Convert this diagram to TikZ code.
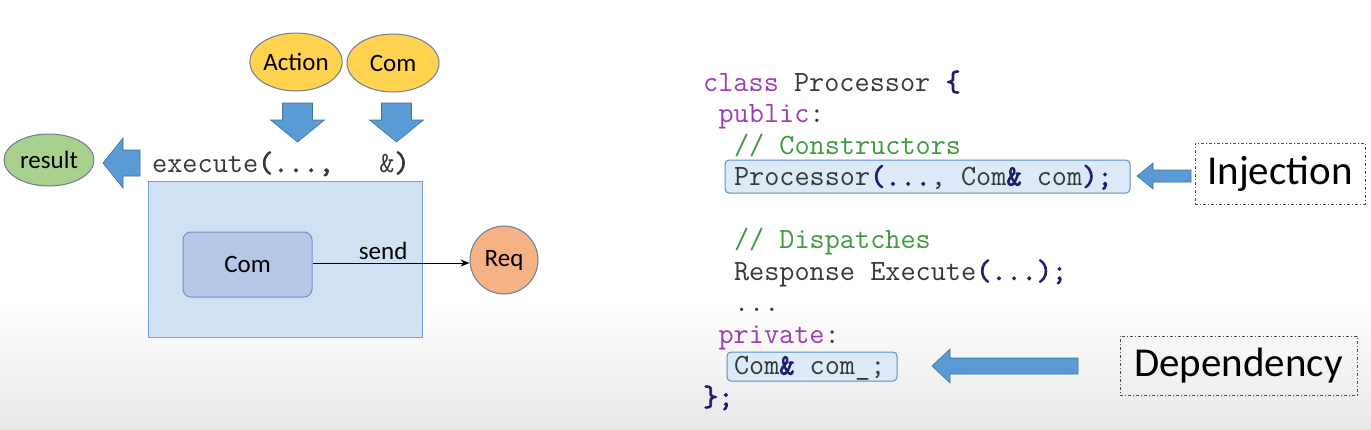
\documentclass[tikz,border=0pt]{standalone}
\usepackage{fontspec}
\setmainfont{Carlito}
\setmonofont[BoldFont={Latin Modern Mono},BoldFeatures={FakeBold=2.5}]{Latin Modern Mono}
\usetikzlibrary{arrows.meta,shapes.geometric}
\definecolor{kw}{RGB}{155,60,185}
\definecolor{cm}{RGB}{60,155,60}
\definecolor{tx}{RGB}{55,55,55}
\definecolor{pn}{RGB}{30,30,110}
\definecolor{arrfill}{RGB}{91,155,213}
\definecolor{arrline}{RGB}{65,113,156}
\definecolor{yel}{RGB}{255,210,80}
\definecolor{grn}{RGB}{169,209,142}
\definecolor{org}{RGB}{244,177,131}
\definecolor{shapeline}{RGB}{110,125,150}
\definecolor{boxfill}{RGB}{207,225,243}
\definecolor{boxline}{RGB}{120,160,205}
\definecolor{comfill}{RGB}{180,199,231}
\definecolor{comline}{RGB}{115,145,195}
\definecolor{hlfill}{RGB}{220,233,246}
\definecolor{hlline}{RGB}{91,143,199}
\newcommand\pb[1]{\textbf{\textcolor{pn}{#1}}}
\tikzset{
  lbl/.style={font=\fontsize{25}{28}\selectfont, text=black},
  oval/.style={ellipse, draw=shapeline, line width=1pt, inner sep=0pt},
  blockarrow/.style={fill=arrfill, draw=arrline, line width=0.6pt},
  codeline/.style={anchor=base west, inner sep=0pt, text=tx, font=\ttfamily\fontsize{29.4}{32}\selectfont},
  hlbox/.style={draw=hlline, fill=hlfill, rounded corners=4pt, line width=1pt, inner sep=0pt},
  tagbox/.style={draw=black!70, line width=0.8pt, dash pattern=on 3pt off 2pt on 1pt off 2pt, inner sep=0pt, font=\fontsize{41}{44}\selectfont},
}
\begin{document}
\begin{tikzpicture}[x=1pt,y=-1pt]
\useasboundingbox (0,0) rectangle (1371,429);
\fill[white] (0,0) rectangle (1371,300);
\shade[top color=white, bottom color=black!9] (0,300) rectangle (1371,429);

% ---------- left diagram ----------
\node[oval, fill=yel, minimum width=90, minimum height=58, lbl] (action) at (296,62) {Action};
\node[oval, fill=yel, minimum width=92, minimum height=58, lbl] (comin) at (393,63) {Com};
\node[oval, fill=grn, minimum width=90, minimum height=52, lbl] (result) at (49,160) {result};

\node[codeline] (exec) at (152,172) {execute\textbf{(...,}\ \ \ \&\textbf{)}};

\node[draw=boxline, fill=boxfill, line width=1pt, minimum width=274, minimum height=156, inner sep=0pt] (proc) at (285.5,259.5) {};
\node[draw=comline, fill=comfill, line width=1pt, rounded corners=8pt, minimum width=129, minimum height=65, inner sep=0pt, lbl] (com) at (247.5,264.5) {Com};
\node[circle, draw=shapeline, fill=org, line width=1pt, minimum size=68, inner sep=0pt, lbl] (req) at (504,260) {Req};
\draw[-{Stealth[length=9pt,width=7pt]}, line width=1pt] (com.east |- 0,263) -- node[lbl, above, pos=0.45, yshift=-1pt] {send} (req.west |- 0,263);

% block arrows (left)
\coordinate (a1) at (297.5,103);
\coordinate (a2) at (396.5,103);
\foreach \c in {a1,a2}{
  \draw[blockarrow] ([xshift=-15pt]\c) -- ([xshift=15pt]\c) -- ([xshift=15pt,yshift=-17pt]\c) -- ([xshift=27pt,yshift=-17pt]\c)
    -- ([yshift=-39pt]\c) -- ([xshift=-27pt,yshift=-17pt]\c) -- ([xshift=-15pt,yshift=-17pt]\c) -- cycle;
}
\coordinate (r1) at (140,163);
\draw[blockarrow] ([yshift=-13pt]r1) -- ([xshift=-17pt,yshift=-13pt]r1) -- ([xshift=-17pt,yshift=-25pt]r1) -- ([xshift=-37pt]r1)
  -- ([xshift=-17pt,yshift=25pt]r1) -- ([xshift=-17pt,yshift=13pt]r1) -- ([yshift=13pt]r1) -- cycle;

% ---------- code ----------
\node[hlbox, minimum width=405, minimum height=33] (hlinj) at (927.5,176.5) {};
\node[hlbox, minimum width=170, minimum height=29] (hldep) at (812,366.5) {};

\node[codeline] (l1) at (703,91) {\textcolor{kw}{class} Processor \pb{\{}};
\node[codeline] (l2) at (718.4,122.5) {\textcolor{kw}{public}:};
\node[codeline] (l3) at (733.8,154) {\textcolor{cm}{// Constructors}};
\node[codeline] (l4) at (733.8,185.5) {Processor\pb{(...}, Com\pb{\&} com\pb{);}};
\node[codeline] (l6) at (733.8,248.5) {\textcolor{cm}{// Dispatches}};
\node[codeline] (l7) at (733.8,280) {Response Execute\pb{(...);}};
\node[codeline] (l8) at (733.8,311.5) {...};
\node[codeline] (l9) at (718.4,343) {\textcolor{kw}{private}:};
\node[codeline] (l10) at (733.8,374.5) {Com\pb{\&} com\_;};
\node[codeline] (l11) at (703,406) {\pb{\};}};

% tags
\node[tagbox, minimum width=170, minimum height=61] (inj) at (1280,173.5) {Injection};
\node[tagbox, minimum width=237, minimum height=59] (dep) at (1238.5,365.5) {Dependency};

\coordinate (i1) at (1191,176);
\draw[blockarrow] ([yshift=-6pt]i1) -- ([xshift=-38pt,yshift=-6pt]i1) -- ([xshift=-38pt,yshift=-13pt]i1) -- ([xshift=-54pt]i1)
  -- ([xshift=-38pt,yshift=13pt]i1) -- ([xshift=-38pt,yshift=6pt]i1) -- ([yshift=6pt]i1) -- cycle;
\coordinate (d1) at (1078,366);
\draw[blockarrow] ([yshift=-8pt]d1) -- ([xshift=-128pt,yshift=-8pt]d1) -- ([xshift=-128pt,yshift=-17pt]d1) -- ([xshift=-146pt]d1)
  -- ([xshift=-128pt,yshift=17pt]d1) -- ([xshift=-128pt,yshift=8pt]d1) -- ([yshift=8pt]d1) -- cycle;
\end{tikzpicture}
\end{document}
